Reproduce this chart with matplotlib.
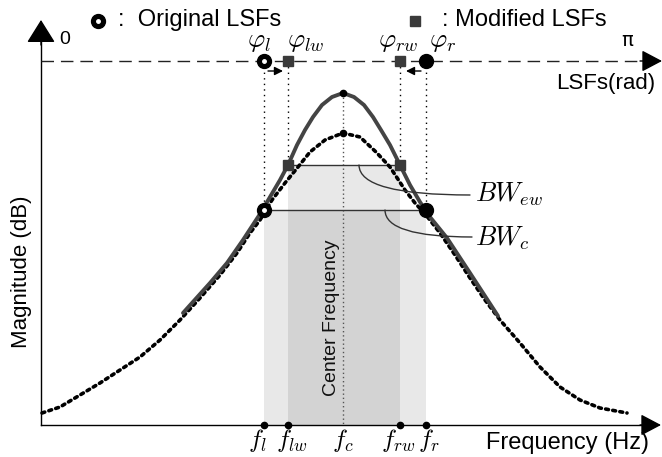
import matplotlib.pyplot as plt
import matplotlib.patches as mpatches

plt.rcParams['font.family'] = ['Liberation Sans', 'DejaVu Sans']
plt.rcParams['mathtext.fontset'] = 'cm'

# canvas units are pixels of the 662x457 picture (y grows downward)
# original envelope (dotted)
orig_x = [42, 60, 80, 100, 120, 140, 160, 180, 200, 220, 237, 250, 260, 272, 285, 298,
          310, 325, 343, 360, 376, 390, 405, 415, 426, 440, 455, 470, 485, 500, 520,
          540, 560, 580, 600, 627]
orig_y = [413, 407, 395, 383, 370, 357, 340, 320, 298, 275, 253, 233, 220, 200, 183, 167,
          152, 140, 133, 137, 152, 167, 190, 203, 215, 233, 255, 278, 300, 320, 343,
          367, 387, 400, 408, 413]

# modified envelope (solid)
mod_x = [183, 210, 227, 243, 260, 270, 280, 288, 297, 305, 313, 322, 332, 343,
         354, 364, 373, 381, 390, 400, 410, 420, 430, 447, 470, 498]
mod_y = [313, 283, 263, 240, 214, 197, 180, 165, 145, 130, 117, 105, 97, 93,
         97, 105, 117, 130, 145, 165, 185, 202, 217, 238, 273, 316]

# LSF positions (left/right original, left/right modified) and levels
lsf_orig = [264, 426]
lsf_mod = [288, 400]
level_orig = 210
level_mod = 165
fc = 343
peak_mod = 93
peak_orig = 133

axis_y = 425
axis_x = 41
lsf_line_y = 61

fig = plt.figure(figsize=(6.62, 4.57), dpi=100)
ax = fig.add_axes([0, 0, 1, 1])
ax.set_xlim(0, 662)
ax.set_ylim(457, 0)
ax.axis('off')

# shaded bands
ax.add_patch(mpatches.Rectangle((lsf_orig[0], level_orig), lsf_orig[1] - lsf_orig[0],
                                axis_y - level_orig, color='k', alpha=0.09, lw=0))
ax.add_patch(mpatches.Rectangle((lsf_mod[0], level_mod), lsf_mod[1] - lsf_mod[0],
                                axis_y - level_mod, color='k', alpha=0.09, lw=0))

# axes
ax.plot([axis_x, axis_x], [axis_y, 38], color='k', lw=1)
ax.plot([axis_x, 645], [axis_y, axis_y], color='k', lw=1)
head = dict(arrowstyle='-|>,head_length=0.8,head_width=0.5', mutation_scale=18,
            color='k', lw=1, shrinkA=0, shrinkB=0)
ax.annotate('', xy=(axis_x, 20), xytext=(axis_x, 45), arrowprops=head)
head2 = dict(arrowstyle='-|>,head_length=0.7,head_width=0.37', mutation_scale=18,
             color='k', lw=1, shrinkA=0, shrinkB=0)
ax.annotate('', xy=(661, axis_y), xytext=(640, axis_y), arrowprops=head2)

# LSF axis (dashed)
ax.plot([axis_x, 645], [lsf_line_y, lsf_line_y], color='#222222', lw=1,
        linestyle=(0, (9, 5)))
ax.annotate('', xy=(662, lsf_line_y), xytext=(640, lsf_line_y), arrowprops=head2)

# vertical guide lines
for xv in lsf_orig:
    ax.plot([xv, xv], [lsf_line_y, level_orig], color='k', lw=1, linestyle=(0, (1, 3)))
for xv in lsf_mod:
    ax.plot([xv, xv], [lsf_line_y, level_mod], color='k', lw=1, linestyle=(0, (1, 3)))
ax.plot([fc, fc], [peak_mod, axis_y], color='#555555', lw=1, linestyle=(0, (1, 2)))

# bandwidth lines
ax.plot(lsf_orig, [level_orig, level_orig], color='#333333', lw=1)
ax.plot(lsf_mod, [level_mod, level_mod], color='#333333', lw=1)

# envelopes
ax.plot(orig_x, orig_y, color='k', lw=2.6, linestyle=(0, (0.8, 1.2)),
        dash_capstyle='round')
ax.plot(mod_x, mod_y, color='#444444', lw=2.8, solid_capstyle='round')
ax.plot([fc, fc], [peak_mod, peak_orig], 'o', color='k', ms=4.5)

# markers on the curves
ax.plot(lsf_orig, [level_orig, level_orig], 'o', color='k', ms=10)
ax.plot(lsf_orig[0], level_orig, 'o', color='w', ms=2.5)
ax.plot(lsf_mod, [level_mod, level_mod], 's', color='#3a3a3a', ms=7)

# markers on the LSF axis
ax.plot(lsf_orig, [lsf_line_y, lsf_line_y], 'o', color='k', ms=10)
ax.plot(lsf_orig[0], lsf_line_y, 'o', color='w', ms=2.5)
ax.plot(lsf_mod, [lsf_line_y, lsf_line_y], 's', color='#3a3a3a', ms=7)

# markers on frequency axis
ax.plot(lsf_orig + lsf_mod, [axis_y] * 4, 'o', color='k', ms=4.5)

# small shift arrows
small = dict(arrowstyle='-|>,head_length=0.5,head_width=0.25', mutation_scale=10,
             color='k', lw=1, shrinkA=0, shrinkB=0)
ax.annotate('', xy=(283, 71), xytext=(268, 71), arrowprops=small)
ax.annotate('', xy=(406, 71), xytext=(421, 71), arrowprops=small)

# BW leaders
lead = dict(arrowstyle='-', color='#333333', lw=1, shrinkA=0, shrinkB=0,
            connectionstyle='angle3,angleA=0,angleB=90')
ax.annotate('', xy=(359, level_mod), xytext=(470, 195), arrowprops=lead)
ax.annotate('', xy=(385, level_orig), xytext=(472, 237), arrowprops=lead)
ax.text(475, 194, r'$BW_{ew}$', fontsize=19, va='center', ha='left')
ax.text(475, 238, r'$BW_c$', fontsize=19, va='center', ha='left')

# labels
phi_labels = [r'$\varphi_l$', r'$\varphi_{lw}$', r'$\varphi_{rw}$', r'$\varphi_r$']
phi_x = [259, 306, 398, 443]
for lab, xv in zip(phi_labels, phi_x):
    ax.text(xv, 42, lab, fontsize=19, ha='center', va='center')

f_labels = [r'$f_l$', r'$f_{lw}$', r'$f_c$', r'$f_{rw}$', r'$f_r$']
f_x = [257, 292, 343, 398, 429]
for lab, xv in zip(f_labels, f_x):
    ax.text(xv, 441, lab, fontsize=18, ha='center', va='center')

ax.text(65, 40, '0', fontsize=14, ha='center', va='center')
ax.text(627, 40, 'π', fontsize=14, ha='center', va='center', family='DejaVu Sans')
ax.text(655, 84, 'LSFs(rad)', fontsize=16, ha='right', va='center')
ax.text(22, 272, 'Magnitude (dB)', fontsize=16, rotation=90, ha='center', va='center')
ax.text(649, 443, 'Frequency (Hz)', fontsize=17, ha='right', va='center')
ax.text(331, 318, 'Center Frequency', fontsize=14, rotation=90, ha='center',
        va='center', color='#111111')

# legend
ax.plot(98, 21, 'o', color='k', ms=10)
ax.plot(98, 21, 'o', color='w', ms=2.5)
ax.text(118, 20, ':  Original LSFs', fontsize=17, ha='left', va='center')
ax.plot(415, 21, 's', color='#3a3a3a', ms=7)
ax.text(442, 20, ': Modified LSFs', fontsize=17, ha='left', va='center')

fig.savefig('out.png', dpi=100)
